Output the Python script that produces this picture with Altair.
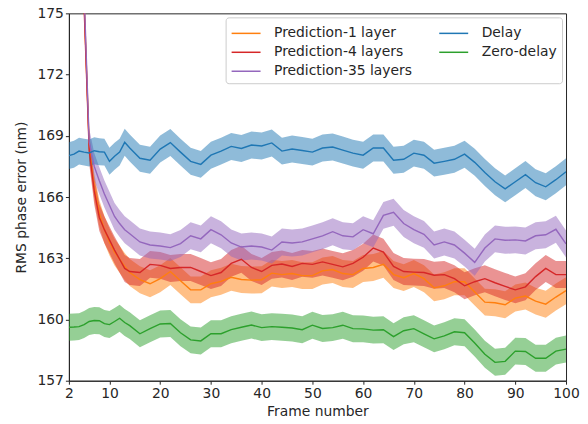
import altair as alt
import pandas as pd

frames = [2, 3, 4, 5, 6, 7, 8, 9, 10, 11, 12, 13, 14] + list(range(16, 101, 2))

delay = [168.03, 168.1, 168.25, 168.2, 168.16, 168.27, 168.22, 168.2, 167.75, 168.0, 168.2, 168.68, 168.4,
         167.9, 167.8, 168.35, 168.67, 168.2, 167.75, 167.6, 168.05, 168.25, 168.48,
         168.38, 168.55, 168.5, 168.65, 168.25, 168.35, 168.28, 168.2, 168.4, 168.45,
         168.3, 168.15, 168.05, 168.4, 168.4, 167.8, 167.85, 168.15, 168.05, 167.66,
         167.75, 167.85, 168.1, 167.7, 167.2, 166.75, 166.4, 166.75, 167.1, 166.7,
         166.5, 166.85, 167.24]

zero_delay = [159.62, 159.63, 159.65, 159.75, 159.9, 159.95, 159.94, 159.8, 159.75, 159.9, 160.06, 159.85, 159.7,
              159.3, 159.55, 159.78, 159.8, 159.35, 159.0, 158.95, 159.3, 159.3, 159.5,
              159.62, 159.73, 159.6, 159.65, 159.62, 159.58, 159.5, 159.72, 159.56, 159.6,
              159.72, 159.55, 159.54, 159.48, 159.5, 159.16, 159.45, 159.55, 159.3, 159.05,
              159.2, 159.4, 159.35, 158.85, 158.3, 157.9, 157.95, 158.45, 158.43, 158.1,
              158.1, 158.45, 158.55]

pred4 = [215.0, 205.0, 190.0, 175.3, 168.3, 166.3, 165.0, 164.4, 163.9, 163.4, 162.95, 162.5, 162.35,
         162.3, 162.7, 162.65, 162.5, 162.55, 162.55, 162.35, 162.15, 162.3, 162.75,
         162.95, 162.55, 162.35, 162.65, 162.72, 162.6, 162.75, 162.7, 162.82, 162.7,
         162.58, 162.75, 163.05, 163.5, 163.3, 162.6, 162.35, 162.32, 162.3, 162.17,
         162.2, 162.0, 161.65, 161.85, 162.0, 161.8, 161.62, 161.45, 161.6, 162.1,
         162.5, 162.2, 162.2]

pred1 = [215.0, 205.0, 190.0, 175.6, 168.5, 166.5, 165.2, 164.4, 163.8, 163.3, 162.95, 162.6, 162.3,
         161.95, 161.75, 162.0, 162.35, 161.9, 161.45, 161.45, 161.75, 161.87, 162.07,
         161.96, 161.93, 161.95, 162.27, 162.2, 162.25, 162.15, 162.15, 162.38, 162.45,
         162.25, 162.2, 162.5, 162.55, 162.7, 162.2, 162.05, 162.25, 162.0, 161.55,
         161.65, 161.85, 161.85, 161.35, 160.85, 160.82, 160.72, 161.05, 161.15, 160.9,
         160.75, 161.1, 161.41]

pred35 = [215.0, 205.0, 190.0, 176.0, 168.7, 167.5, 166.8, 166.15, 165.6, 165.05, 164.7, 164.4, 164.2,
          163.8, 163.65, 163.6, 163.52, 163.72, 164.1, 163.95, 164.4, 164.15, 163.75,
          163.55, 163.6, 163.55, 163.4, 163.8, 163.75, 163.8, 163.95, 164.1, 164.3,
          164.1, 164.05, 164.4, 164.2, 165.1, 165.25, 164.7, 164.4, 164.17, 163.65,
          163.8, 163.65, 163.25, 162.8, 163.5, 163.95, 163.88, 163.9, 163.85, 164.1,
          164.15, 164.42, 163.7]

series_names = ["Prediction-1 layer", "Prediction-4 layers", "Prediction-35 layers", "Delay", "Zero-delay"]
series_colors = ["#ff7f0e", "#d62728", "#9467bd", "#1f77b4", "#2ca02c"]
band_halfwidth = 0.66

x_ticks = [2, 10, 20, 30, 40, 50, 60, 70, 80, 90, 100]
y_ticks = [157, 160, 163, 166, 169, 172, 175]

rows = []
for k, (name, vals) in enumerate(zip(series_names, [pred1, pred4, pred35, delay, zero_delay])):
    for f, v in zip(frames, vals):
        rows.append({"frame": f, "value": v, "lo": v - band_halfwidth, "hi": v + band_halfwidth,
                     "series": name, "k": k})
df = pd.DataFrame(rows)

color_scale = alt.Scale(domain=series_names, range=series_colors)

legend = alt.Legend(title=None, orient="top-right", offset=4, columns=2,
                    symbolType="M-1.45,0H1.45", symbolSize=400, symbolOffset=4.5,
                    symbolStrokeWidth=1.5, symbolOpacity=1,
                    labelFontSize=13.9, labelFont="DejaVu Sans", labelColor="#262626",
                    labelOffset=17, columnPadding=24, rowPadding=1, padding=5,
                    strokeColor="#cccccc", fillColor="rgba(255,255,255,0.8)",
                    cornerRadius=3, labelLimit=300)

x_enc = alt.X("frame:Q", scale=alt.Scale(domain=[2, 100], nice=False, zero=False),
              axis=alt.Axis(values=x_ticks, title="Frame number", titlePadding=4, labelPadding=2,
                            labelFlush=False))
y_scale = alt.Scale(domain=[157, 175], nice=False, zero=False)

base = alt.Chart(df)

bands = base.mark_area(opacity=0.5, clip=True).encode(
    x=x_enc,
    y=alt.Y("lo:Q", scale=y_scale, stack=None,
            axis=alt.Axis(values=y_ticks, title="RMS phase error (nm)", titlePadding=8, labelPadding=2,
                          labelFlush=False)),
    y2="hi:Q",
    color=alt.Color("series:N", scale=color_scale, legend=legend),
    order=alt.Order("k:Q"),
)

lines = base.mark_line(strokeWidth=1.4, clip=True).encode(
    x=x_enc,
    y=alt.Y("value:Q", scale=y_scale),
    color=alt.Color("series:N", scale=color_scale, legend=legend),
)

chart = alt.layer(bands, lines).properties(
    width=498, height=368,
    padding={"left": 61, "top": 5, "right": 14, "bottom": 40},
    autosize=alt.AutoSizeParams(type="none"),
).configure_axis(
    labelFont="DejaVu Sans", titleFont="DejaVu Sans", labelFontSize=13.9, titleFontSize=13.9,
    titleFontWeight="normal", labelColor="#262626", titleColor="#262626",
    tickColor="#262626", domainColor="#262626", tickSize=3.5, grid=False,
).configure_view(stroke="#262626", strokeWidth=1)

chart.save("out.html", embed_options={"renderer": "svg", "actions": False})
